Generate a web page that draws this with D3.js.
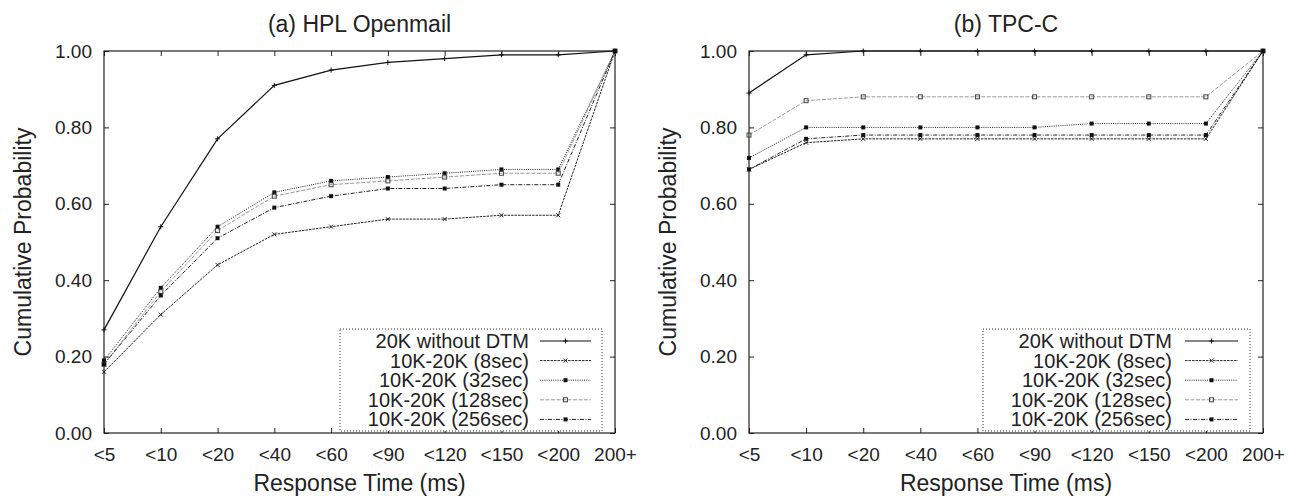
<!DOCTYPE html>
<html><head><meta charset="utf-8">
<script src="https://cdn.jsdelivr.net/npm/d3@7"></script>
<style>
body{margin:0;background:#fff;}
svg{display:block;font-family:"Liberation Sans",Arial,sans-serif;}
</style></head>
<body><svg id="c" width="1293" height="499"></svg>
<script>
const categories = ["<5","<10","<20","<40","<60","<90","<120","<150","<200","200+"];
const yTicks = [0,0.2,0.4,0.6,0.8,1.0];
const seriesNames = ["20K without DTM","10K-20K (8sec)","10K-20K (32sec)","10K-20K (128sec)","10K-20K (256sec)"];

const openmail20K   = [0.27,0.54,0.77,0.91,0.95,0.97,0.98,0.99,0.99,1.00];
const openmail8s    = [0.16,0.31,0.44,0.52,0.54,0.56,0.56,0.57,0.57,1.00];
const openmail32s   = [0.19,0.38,0.54,0.63,0.66,0.67,0.68,0.69,0.69,1.00];
const openmail128s  = [0.18,0.37,0.53,0.62,0.65,0.66,0.67,0.68,0.68,1.00];
const openmail256s  = [0.18,0.36,0.51,0.59,0.62,0.64,0.64,0.65,0.65,1.00];

const tpcc20K   = [0.89,0.99,1.00,1.00,1.00,1.00,1.00,1.00,1.00,1.00];
const tpcc8s    = [0.69,0.76,0.77,0.77,0.77,0.77,0.77,0.77,0.77,1.00];
const tpcc32s   = [0.72,0.80,0.80,0.80,0.80,0.80,0.81,0.81,0.81,1.00];
const tpcc128s  = [0.78,0.87,0.88,0.88,0.88,0.88,0.88,0.88,0.88,1.00];
const tpcc256s  = [0.69,0.77,0.78,0.78,0.78,0.78,0.78,0.78,0.78,1.00];

const styles = [
  {stroke:"#111", dash:null, w:1.2, marker:"plus"},
  {stroke:"#222", dash:"2.5,1", w:1, marker:"x"},
  {stroke:"#222", dash:"1,1.2", w:1, marker:"fsq"},
  {stroke:"#999", dash:"4,1.5", w:1, marker:"osq"},
  {stroke:"#222", dash:"4,1.5,1,1.5", w:1, marker:"fsq"}
];

const svg = d3.select("#c");

function marker(g, type, x, y){
  if(type==="plus"){
    g.append("path").attr("d",`M${x-2.5},${y}H${x+2.5}M${x},${y-2.5}V${y+2.5}`).attr("stroke","#111").attr("stroke-width",1);
  } else if(type==="x"){
    g.append("path").attr("d",`M${x-2},${y-2}L${x+2},${y+2}M${x-2},${y+2}L${x+2},${y-2}`).attr("stroke","#222").attr("stroke-width",1);
  } else if(type==="fsq"){
    g.append("rect").attr("x",x-2).attr("y",y-2).attr("width",4).attr("height",4).attr("fill","#111");
  } else if(type==="osq"){
    g.append("rect").attr("x",x-2).attr("y",y-2).attr("width",4).attr("height",4).attr("fill","none").attr("stroke","#444").attr("stroke-width",1);
  }
}

function panel(cfg){
  const {x0,x1,y0,y1,title,data,legend,ylx} = cfg;
  const g = svg.append("g");
  const x = d3.scalePoint().domain(categories).range([x0,x1]);
  const y = d3.scaleLinear().domain([0,1]).range([y1,y0]);

  g.append("rect").attr("x",x0).attr("y",y0).attr("width",x1-x0).attr("height",y1-y0)
    .attr("fill","none").attr("stroke","#222").attr("stroke-width",1.2);

  const ax = g.append("g").attr("transform",`translate(0,${y1})`)
    .call(d3.axisBottom(x).tickSize(-5).tickPadding(15));
  const axTop = g.append("g").attr("transform",`translate(0,${y0})`)
    .call(d3.axisTop(x).tickSize(-5).tickFormat(""));
  const ay = g.append("g").attr("transform",`translate(${x0},0)`)
    .call(d3.axisLeft(y).tickValues(yTicks).tickFormat(d3.format(".2f")).tickSize(-5).tickPadding(12));
  const ayR = g.append("g").attr("transform",`translate(${x1},0)`)
    .call(d3.axisRight(y).tickValues(yTicks).tickFormat("").tickSize(-5));
  [ax,axTop,ay,ayR].forEach(a=>{
    a.select(".domain").remove();
    a.selectAll(".tick line").attr("stroke","#222");
    a.selectAll("text").attr("font-size",19).attr("fill","#222").attr("font-family","Liberation Sans, Arial, sans-serif");
  });

  g.append("text").attr("x",(x0+x1)/2).attr("y",32).attr("text-anchor","middle")
    .attr("font-size",23).attr("fill","#222").text(title);
  g.append("text").attr("x",(x0+x1)/2).attr("y",491).attr("text-anchor","middle")
    .attr("font-size",23).attr("fill","#222").text("Response Time (ms)");
  g.append("text").attr("transform",`translate(${ylx},${(y0+y1)/2}) rotate(-90)`).attr("text-anchor","middle")
    .attr("font-size",23).attr("fill","#222").text("Cumulative Probability");

  const line = d3.line().x((d,i)=>x(categories[i])).y(d=>y(d));
  data.forEach((s,k)=>{
    const st = styles[k];
    g.append("path").attr("d",line(s)).attr("fill","none").attr("stroke",st.stroke)
      .attr("stroke-width",st.w).attr("stroke-dasharray",st.dash);
    s.forEach((v,i)=>marker(g, st.marker, x(categories[i]), y(v)));
  });

  const L = legend;
  g.append("rect").attr("x",L.bx0).attr("y",L.by0).attr("width",L.bx1-L.bx0).attr("height",y1-2-L.by0)
    .attr("fill","#fff").attr("stroke","#333").attr("stroke-width",1).attr("stroke-dasharray","1,2");
  seriesNames.forEach((n,k)=>{
    const yy = L.by0 + 12 + k*19.6;
    g.append("text").attr("x",L.tx).attr("y",yy+7).attr("text-anchor","end").attr("font-size",20)
      .attr("fill","#222").text(n);
    const st = styles[k];
    g.append("line").attr("x1",L.sx0).attr("x2",L.sx1).attr("y1",yy).attr("y2",yy)
      .attr("stroke",st.stroke).attr("stroke-width",st.w).attr("stroke-dasharray",st.dash);
    marker(g, st.marker, (L.sx0+L.sx1)/2, yy);
  });
}

panel({x0:104,x1:615,y0:51,y1:433,title:"(a) HPL Openmail",ylx:31,
  data:[openmail20K,openmail8s,openmail32s,openmail128s,openmail256s],
  legend:{bx0:340,bx1:602,by0:329,tx:529,sx0:540,sx1:591}});
panel({x0:749,x1:1263,y0:51,y1:433,title:"(b) TPC-C",ylx:676,
  data:[tpcc20K,tpcc8s,tpcc32s,tpcc128s,tpcc256s],
  legend:{bx0:983,bx1:1250,by0:329,tx:1172,sx0:1185,sx1:1238}});
</script></body></html>
